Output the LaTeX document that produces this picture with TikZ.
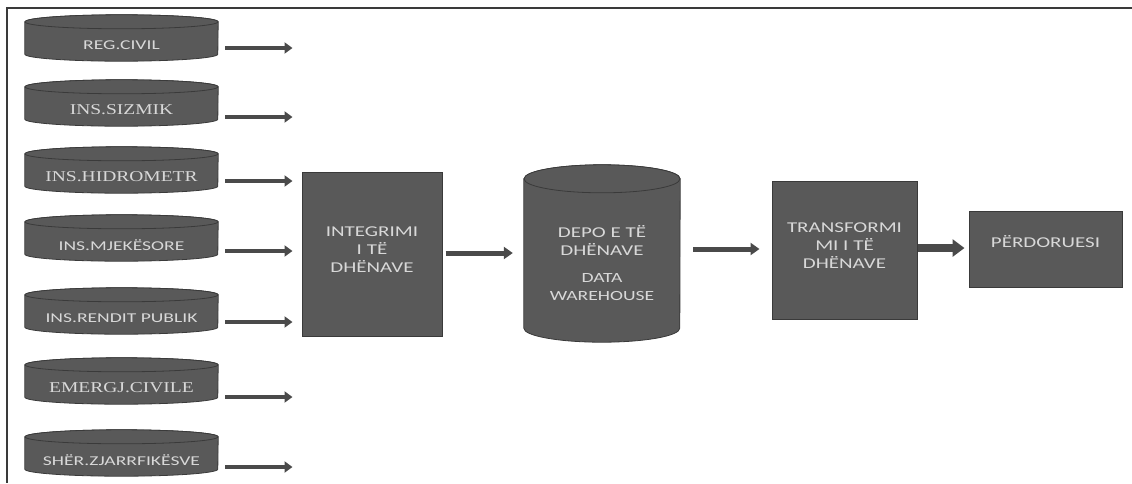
\documentclass[tikz,border=0pt]{standalone}
\usepackage{fontspec}
\usetikzlibrary{arrows.meta,calc}
\newfontfamily\srcserif[FakeStretch=1.3]{Liberation Serif}
\newfontfamily\srcsans[FakeStretch=1.45]{Carlito}
\newfontfamily\blksans[FakeStretch=1.4]{Carlito}
\definecolor{boxfill}{HTML}{595959}
\definecolor{boxline}{HTML}{3A3A3A}
\definecolor{boxtext}{HTML}{D8D8D8}
\definecolor{arrowcol}{HTML}{4A4A4A}
\definecolor{framecol}{HTML}{3A3A3A}
\pgfdeclarelayer{background}
\pgfsetlayers{background,main}
\newcommand\liftlines[2]{\raisebox{#1}[\height][\depth]{\begin{tabular}{@{}c@{}}#2\end{tabular}}}
\begin{document}
\begin{tikzpicture}[x=1pt,y=-1pt,
  src/.style={minimum width=193pt, minimum height=32pt, inner sep=0pt, text=boxtext},
  srcserif/.style={src, font=\srcserif\fontsize{15}{18}\selectfont},
  srcsans/.style={src, font=\srcsans\fontsize{13.5}{16}\selectfont},
  blk/.style={draw=boxline, fill=boxfill, line width=1pt, text=boxtext,
    inner sep=0pt, font=\blksans\fontsize{15}{18}\selectfont},
  cylbody/.style={fill=boxfill, draw=boxline, line width=0.8pt},
  arr/.style={draw=arrowcol, line width=4pt, -{Triangle[length=8pt,width=11pt]}},
  arrmid/.style={draw=arrowcol, line width=5pt, -{Triangle[length=9pt,width=12pt]}},
  arrbig/.style={draw=arrowcol, line width=8pt, -{Triangle[length=12pt,width=17pt]}},
  frame/.style={draw=framecol, line width=1.5pt}]
\useasboundingbox (0,0) rectangle (1132,483);

% frame
\draw[frame] (1132,8) -- (7,8) -- (7,483);

% source databases
\node[srcsans]  (s1) at (121.5,45)  {REG.CIVIL};
\node[srcserif] (s2) at (121.5,110) {INS.SIZMIK};
\node[srcserif] (s3) at (121.5,177) {INS.HIDROMETR};
\node[srcsans]  (s4) at (121.5,245) {INS.MJEKËSORE};
\node[srcsans]  (s5) at (121.5,318) {INS.RENDIT PUBLIK};
\node[srcserif] (s6) at (121.5,388) {EMERGJ.CIVILE};
\node[srcsans]  (s7) at (121.5,460) {SHËR.ZJARRFIKËSVE};

% main blocks
\node[blk, minimum width=140pt, minimum height=164pt] (int) at (372,254)
  {\liftlines{3pt}{INTEGRIMI\\I TË\\DHËNAVE}};
\node[src, minimum width=156pt, minimum height=149pt,
  font=\blksans\fontsize{15}{18}\selectfont] (depo) at (602,267.5)
  {\liftlines{2pt}{DEPO E TË\\DHËNAVE\\[9pt]\fontsize{14}{17}\selectfont DATA\\\fontsize{14}{17}\selectfont WAREHOUSE}};
\node[blk, minimum width=145pt, minimum height=138pt] (trans) at (844.5,250)
  {\liftlines{3pt}{TRANSFORMI\\MI I TË\\DHËNAVE}};
\node[blk, minimum width=153pt, minimum height=76pt] (user) at (1045.5,249)
  {\liftlines{5pt}{PËRDORUESI}};

% cylinder drawings behind the text
\begin{pgfonlayer}{background}
  \foreach \nm in {s1,s2,s3,s4,s5,s6,s7} {
    \path[cylbody] let \p1=(\nm.north west), \p2=(\nm.south east) in
      (\x1,{\y1+7pt}) -- (\x1,{\y2+7pt})
      arc[start angle=180, end angle=360, x radius=96.5pt, y radius=7pt]
      -- (\x2,{\y1+7pt})
      arc[start angle=0, end angle=180, x radius=96.5pt, y radius=7pt] -- cycle;
    \path[cylbody] let \p1=(\nm.north) in
      (\x1,{\y1+7pt}) ellipse[x radius=96.5pt, y radius=7pt];
  }
  \path[cylbody] let \p1=(depo.north west), \p2=(depo.south east) in
    (\x1,{\y1+14pt}) -- (\x1,{\y2+14pt})
    arc[start angle=180, end angle=360, x radius=78pt, y radius=14pt]
    -- (\x2,{\y1+14pt})
    arc[start angle=0, end angle=180, x radius=78pt, y radius=14pt] -- cycle;
  \path[cylbody] let \p1=(depo.north) in
    (\x1,{\y1+14pt}) ellipse[x radius=78pt, y radius=14pt];
\end{pgfonlayer}

% arrows from sources
\draw[arr] ([xshift=7pt]s1.east |- 0,48)  -- ([xshift=-9pt]int.west |- 0,48);
\draw[arr] ([xshift=7pt]s2.east |- 0,117) -- ([xshift=-9pt]int.west |- 0,117);
\draw[arr] ([xshift=7pt]s3.east |- 0,181) -- ([xshift=-9pt]int.west |- 0,181);
\draw[arr] ([xshift=7pt]s4.east |- 0,251) -- ([xshift=-9pt]int.west |- 0,251);
\draw[arr] ([xshift=7pt]s5.east |- 0,322) -- ([xshift=-9pt]int.west |- 0,322);
\draw[arr] ([xshift=7pt]s6.east |- 0,397) -- ([xshift=-9pt]int.west |- 0,397);
\draw[arr] ([xshift=7pt]s7.east |- 0,467) -- ([xshift=-9pt]int.west |- 0,467);

% main flow
\draw[arrmid] ([xshift=3pt]int.east |- 0,253) -- ([xshift=-11pt]depo.west |- 0,253);
\draw[arrmid] ([xshift=13pt]depo.east |- 0,249) -- ([xshift=-12pt]trans.west |- 0,249);
\draw[arrbig] (trans.east |- 0,248) -- ([xshift=-4pt]user.west |- 0,248);
\end{tikzpicture}
\end{document}
